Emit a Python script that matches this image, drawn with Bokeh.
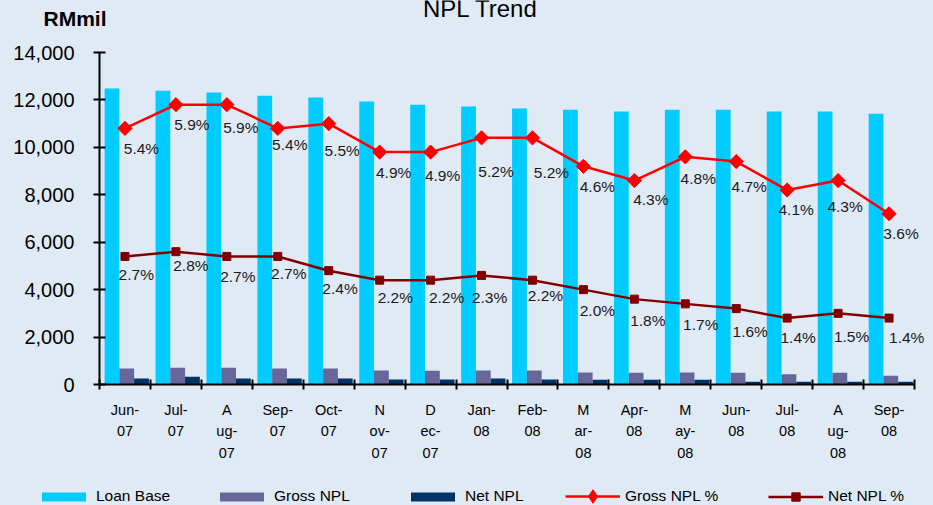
import math
import numpy as np
from bokeh.plotting import figure
from bokeh.layouts import column
from bokeh.models import (ColumnDataSource, Range1d, FixedTicker, NumeralTickFormatter,
                          Legend, LegendItem, Label)
from bokeh.embed import file_html
from bokeh.resources import INLINE

# ---------------- data ----------------
months = ["Jun-07", "Jul-07", "Aug-07", "Sep-07", "Oct-07", "Nov-07", "Dec-07", "Jan-08",
          "Feb-08", "Mar-08", "Apr-08", "May-08", "Jun-08", "Jul-08", "Aug-08", "Sep-08"]
tick_labels = ["Jun-\n07", "Jul-\n07", "A\nug-\n07", "Sep-\n07", "Oct-\n07", "N\nov-\n07",
               "D\nec-\n07", "Jan-\n08", "Feb-\n08", "M\nar-\n08", "Apr-\n08", "M\nay-\n08",
               "Jun-\n08", "Jul-\n08", "A\nug-\n08", "Sep-\n08"]
loan_base = [12480, 12390, 12310, 12180, 12100, 11930, 11800, 11720,
             11640, 11590, 11510, 11590, 11590, 11510, 11510, 11420]
gross_npl = [670, 710, 710, 670, 670, 590, 580, 590,
             590, 510, 500, 510, 500, 430, 500, 370]
net_npl = [250, 330, 250, 250, 250, 210, 210, 250,
           210, 200, 200, 200, 120, 120, 120, 120]
gross_pct = [5.4, 5.9, 5.9, 5.4, 5.5, 4.9, 4.9, 5.2, 5.2, 4.6, 4.3, 4.8, 4.7, 4.1, 4.3, 3.6]
net_pct = [2.7, 2.8, 2.7, 2.7, 2.4, 2.2, 2.2, 2.3, 2.2, 2.0, 1.8, 1.7, 1.6, 1.4, 1.5, 1.4]
y_ticks = [0, 2000, 4000, 6000, 8000, 10000, 12000, 14000]
legend_labels = ["Loan Base", "Gross NPL", "Net NPL", "Gross NPL %", "Net NPL %"]

# label placement (pixel offsets of data labels from their markers)
gross_dx = [16.5, 16, 14, 12, 13.5, 14, 12, 14.5, 19, 14, 16.5, 13, 13, 9, 7, 12]
gross_dy = [20, 20, 23, 16, 27, 20, 23, 34, 35, 20, 19, 22, 25, 19, 26, 20]
net_dx = [11.3, 15, 11, 11, 11.3, 15.7, 16, 8, 13, 14, 13.5, 15.5, 14, 11, 13.5, 17.7]
net_dy = [17.6, 14, 19.6, 17, 18, 17, 17, 22, 15, 21, 21, 21, 22.6, 19, 22.7, 19]

# ---------------- style / layout ----------------
BG = "#DFEAF5"
FONT = "Liberation Sans"
C_LOAN, C_GROSS, C_NET = "#00CCFF", "#666699", "#003366"
C_GPCT, C_NPCT = "#FF0000", "#800000"
W = 933
TOP_H, MAIN_H, BOT_H = 40, 430, 35
LEFT, RIGHT, MTOP, FRAME_H = 99, 6, 12, 332
AXIS_W = 815                      # pixel length of the category axis
FRAME_W = W - LEFT - RIGHT
BGSTYLE = {"background-color": BG}

n = len(months)
idx = np.arange(n)
centers = idx + 0.5

src = ColumnDataSource(dict(
    xl=idx + 0.245, xg=idx + 0.535, xn=idx + 0.825, xc=centers,
    loan=loan_base, gross=gross_npl, net=net_npl,
    gp=gross_pct, np_=net_pct,
    gl=[f"{v:.1f}%" for v in gross_pct], nl=[f"{v:.1f}%" for v in net_pct],
    gdx=gross_dx, gdy=gross_dy, ndx=net_dx, ndy=net_dy,
))


def strip(height):
    f = figure(width=W, height=height, x_range=Range1d(0, 1), y_range=Range1d(0, 1),
               x_axis_type=None, y_axis_type=None, output_backend="svg", toolbar_location=None,
               min_border=0, min_border_left=0, min_border_right=0, min_border_top=0,
               min_border_bottom=0, background_fill_color=None, border_fill_color=None,
               outline_line_color=None, styles=BGSTYLE)
    if "frame_align" in f.properties():
        f.frame_align = False
    return f


# ---------------- title strip ----------------
top = strip(TOP_H)
top.add_layout(Label(x=480, y=TOP_H - 7.5, x_units="screen", y_units="screen", text="NPL Trend",
                     text_align="center", text_baseline="alphabetic", text_font=FONT,
                     text_font_size="24px", text_color="black"))
top.add_layout(Label(x=43, y=TOP_H - 18, x_units="screen", y_units="screen", text="RMmil",
                     text_align="left", text_baseline="alphabetic", text_font=FONT,
                     text_font_size="21px", text_font_style="bold", text_color="black"))

# ---------------- main chart ----------------
p = figure(width=W, height=MAIN_H, x_range=Range1d(0, n * FRAME_W / AXIS_W),
           y_range=Range1d(0, 14000),
           output_backend="svg", toolbar_location=None,
           min_border_left=LEFT, min_border_right=RIGHT, min_border_top=MTOP,
           min_border_bottom=MAIN_H - MTOP - FRAME_H,
           background_fill_color=None, border_fill_color=None, outline_line_color=None,
           styles=BGSTYLE)
if "frame_align" in p.properties():
    p.frame_align = False
p.extra_y_ranges = {"pct": Range1d(0, 7)}
p.xgrid.visible = False
p.ygrid.visible = False

ya = p.yaxis[0]
ya.ticker = FixedTicker(ticks=y_ticks, minor_ticks=[])
ya.formatter = NumeralTickFormatter(format="0,0")
ya.axis_line_width = 2
ya.axis_line_color = "black"
ya.major_tick_in = 6
ya.major_tick_out = 6
ya.major_tick_line_width = 2
ya.major_tick_line_color = "black"
ya.minor_tick_line_color = None
ya.major_label_standoff = 19
ya.major_label_text_font = FONT
ya.major_label_text_font_size = "20px"
ya.major_label_text_color = "black"

xa = p.xaxis[0]
xa.bounds = (0, n)
xa.ticker = FixedTicker(ticks=list(centers), minor_ticks=list(range(n + 1)))
xa.major_label_overrides = {float(c): lab for c, lab in zip(centers, tick_labels)}
xa.axis_line_width = 2
xa.axis_line_color = "black"
xa.major_tick_in = 0
xa.major_tick_out = 0
xa.minor_tick_in = 5
xa.minor_tick_out = 5
xa.minor_tick_line_width = 2
xa.minor_tick_line_color = "black"
xa.major_label_standoff = 12
xa.major_label_text_font = FONT
xa.major_label_text_font_size = "14.5px"
xa.major_label_text_line_height = 1.35
xa.major_label_text_color = "black"

p.vbar(x="xl", top="loan", width=0.29, source=src, fill_color=C_LOAN, line_color=None)
p.vbar(x="xg", top="gross", width=0.29, source=src, fill_color=C_GROSS, line_color=None)
p.vbar(x="xn", top="net", width=0.29, source=src, fill_color=C_NET, line_color=None)

p.line(x="xc", y="gp", source=src, y_range_name="pct", line_color=C_GPCT, line_width=2.5)
p.scatter(x="xc", y="gp", source=src, y_range_name="pct", marker="square",
          angle=math.pi / 4, size=10, fill_color=C_GPCT, line_color=C_GPCT)
p.line(x="xc", y="np_", source=src, y_range_name="pct", line_color=C_NPCT, line_width=2.5)
p.scatter(x="xc", y="np_", source=src, y_range_name="pct", marker="square",
          size=8, fill_color=C_NPCT, line_color=C_NPCT)

p.text(x="xc", y="gp", text="gl", source=src, y_range_name="pct", x_offset="gdx", y_offset="gdy",
       text_align="center", text_baseline="middle", text_font_size="15.5px",
       text_font={"value": FONT}, text_color="#1a1a1a")
p.text(x="xc", y="np_", text="nl", source=src, y_range_name="pct", x_offset="ndx", y_offset="ndy",
       text_align="center", text_baseline="middle", text_font_size="15.5px",
       text_font={"value": FONT}, text_color="#1a1a1a")

# ---------------- legend strip ----------------
bot = strip(BOT_H)
# legend proxies: one point each, placed outside the strip's visible range
proxy = ColumnDataSource(dict(x=[-5.0, -4.0], y=[-5.0, -4.0]))
lg_loan = bot.vbar(x="x", top="y", width=0.1, source=proxy, fill_color=C_LOAN, line_color=None)
lg_gross = bot.vbar(x="x", top="y", width=0.1, source=proxy, fill_color=C_GROSS, line_color=None)
lg_net = bot.vbar(x="x", top="y", width=0.1, source=proxy, fill_color=C_NET, line_color=None)
lg_gl = bot.line(x="x", y="y", source=proxy, line_color=C_GPCT, line_width=2.5)
lg_gm = bot.scatter(x="x", y="y", source=proxy, marker="diamond", size=13,
                    fill_color=C_GPCT, line_color=C_GPCT)
lg_nl = bot.line(x="x", y="y", source=proxy, line_color=C_NPCT, line_width=2.5)
lg_nm = bot.scatter(x="x", y="y", source=proxy, marker="square", size=8,
                    fill_color=C_NPCT, line_color=C_NPCT)

legend_rends = [[lg_loan], [lg_gross], [lg_net], [lg_gl, lg_gm], [lg_nl, lg_nm]]
legend_x = [36, 214, 405, 565, 768]
glyph_h = [11, 11, 11, 34, 21]
legend_y = [0, 0, 0, -8, -1.5]
for lab, rends, vx, gh, vy in zip(legend_labels, legend_rends, legend_x, glyph_h, legend_y):
    leg = Legend(items=[LegendItem(label=lab, renderers=rends)], location=(vx, vy),
                 orientation="horizontal", padding=0, margin=0, spacing=0,
                 glyph_width=55, glyph_height=gh, label_standoff=5,
                 background_fill_alpha=0, border_line_color=None,
                 label_text_font=FONT, label_text_font_size="15.5px", label_text_color="black")
    bot.add_layout(leg)

layout = column(top, p, bot, spacing=0, styles=BGSTYLE)
open("out.html", "w").write(file_html(layout, INLINE))
